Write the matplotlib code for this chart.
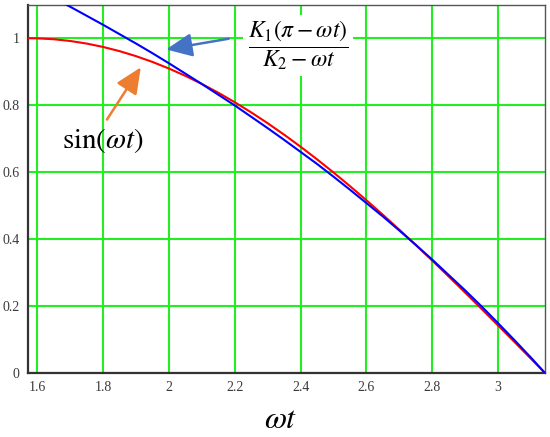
import numpy as np
import matplotlib
matplotlib.use("Agg")
import matplotlib.pyplot as plt

plt.rcParams['mathtext.fontset'] = 'stix'

# wt values and both curves
wt = [1.5708, 1.6, 1.65, 1.7, 1.75, 1.8, 1.85, 1.9, 1.95, 2.0, 2.05,
      2.1, 2.15, 2.2, 2.25, 2.3, 2.35, 2.4, 2.45, 2.5, 2.55, 2.6, 2.65,
      2.7, 2.75, 2.8, 2.85, 2.9, 2.95, 3.0, 3.05, 3.1, 3.1416]
sin_curve = [1.0, 0.9996, 0.9969, 0.9917, 0.9840, 0.9738, 0.9613, 0.9463,
             0.9290, 0.9093, 0.8874, 0.8632, 0.8369, 0.8085, 0.7781,
             0.7457, 0.7115, 0.6755, 0.6378, 0.5985, 0.5577, 0.5155,
             0.4720, 0.4274, 0.3817, 0.3350, 0.2875, 0.2392, 0.1904,
             0.1411, 0.0915, 0.0416, 0.0]
approx_curve = [1.160, 1.146, 1.120, 1.094, 1.067, 1.040, 1.012, 0.984,
                0.955, 0.925, 0.894, 0.863, 0.831, 0.799, 0.765, 0.731,
                0.696, 0.660, 0.624, 0.586, 0.547, 0.507, 0.467, 0.425,
                0.382, 0.338, 0.292, 0.246, 0.198, 0.148, 0.097, 0.045, 0.0]

xticks = [1.6, 1.8, 2.0, 2.2, 2.4, 2.6, 2.8, 3.0]
xtick_labels = ['1.6', '1.8', '2', '2.2', '2.4', '2.6', '2.8', '3']
yticks = [0, 0.2, 0.4, 0.6, 0.8, 1.0]
ytick_labels = ['0', '0.2', '0.4', '0.6', '0.8', '1']

fig = plt.figure(figsize=(5.5, 4.37), dpi=100)
ax = fig.add_axes([0.0504, 0.1471, 0.94, 0.842])

ax.plot(wt, sin_curve, color='#ff0000', lw=1.5, zorder=3)
ax.plot(wt, approx_curve, color='#0000ff', lw=1.5, zorder=4)

ax.set_xlim(1.5708, 3.1416)
ax.set_ylim(0, 1.1)
ax.set_xticks(xticks)
ax.set_xticklabels(xtick_labels)
ax.set_yticks(yticks)
ax.set_yticklabels(ytick_labels)
ax.tick_params(length=0, pad=6, labelsize=10, labelcolor='#3a3a3a')
for lab in ax.get_xticklabels() + ax.get_yticklabels():
    lab.set_family('Liberation Serif')

ax.grid(True, color='#22ee22', lw=1.5)
ax.set_axisbelow(True)
for side in ['left', 'bottom']:
    ax.spines[side].set_color('#333333')
    ax.spines[side].set_linewidth(1.6)
for side in ['top', 'right']:
    ax.spines[side].set_color('#555555')
    ax.spines[side].set_linewidth(1.0)

# formula label with arrow
ax.annotate('', xy=(1.983, 0.965), xytext=(2.19, 1.0),
            arrowprops=dict(arrowstyle='-|>,head_length=1.0,head_width=0.45',
                            color='#4472c4', lw=1.8, mutation_scale=16),
            zorder=6)
ax.text(2.392, 0.977, r'$\dfrac{K_1(\pi-\omega t)}{K_2-\omega t}$',
        fontsize=17, ha='center', va='center', zorder=5,
        bbox=dict(facecolor='white', edgecolor='none', pad=3))

ax.annotate('', xy=(1.919, 0.92), xytext=(1.807, 0.75),
            arrowprops=dict(arrowstyle='-|>,head_length=1.0,head_width=0.45',
                            color='#ed7d31', lw=1.8, mutation_scale=16),
            zorder=6)
ax.text(1.80, 0.695, r'$\sin(\omega t)$', fontsize=21,
        ha='center', va='center', zorder=5)

fig.text(0.511, 0.039, r'$\omega t$', fontsize=23, ha='center', va='center')

fig.savefig('out.png', dpi=100)
